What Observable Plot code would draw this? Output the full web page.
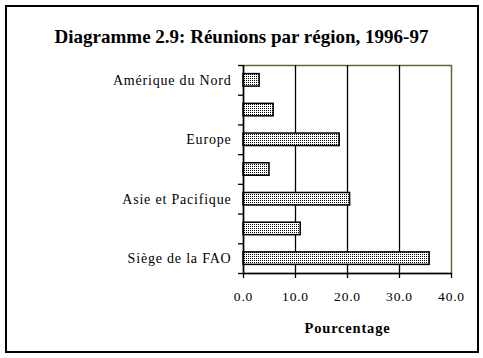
<!DOCTYPE html>
<html>
<head>
<meta charset="utf-8">
<script src="https://cdn.jsdelivr.net/npm/d3@7"></script>
<script src="https://cdn.jsdelivr.net/npm/@observablehq/plot@0.6"></script>
<style>
  html, body { margin: 0; padding: 0; background: #fff; }
  #wrap { position: relative; width: 483px; height: 358px; overflow: hidden; background: #fff; }
  #frame { position: absolute; left: 5px; top: 5px; width: 470px; height: 344px; border: 2px solid #000; }
  #title { position: absolute; left: 0; width: 483px; top: 26px; text-align: center;
           font: bold 19px "Liberation Serif", serif; color: #000; line-height: 22px; }
  #chart { position: absolute; left: 0; top: 0; }
  #chart svg text { letter-spacing: 0.8px; font-family: "Liberation Serif", serif; }
</style>
</head>
<body>
<div id="wrap">
  <div id="frame"></div>
  <div id="chart"></div>
  <div id="title">Diagramme 2.9: Réunions par région, 1996-97</div>
</div>
<script>
const categories = ["Amérique du Nord", "", "Europe", "", "Asie et Pacifique", "", "Siège de la FAO"];
const values = [3.1, 5.8, 18.5, 5.0, 20.5, 11.0, 35.8];
const xTicks = [0, 10, 20, 30, 40];
const xLabel = "Pourcentage";

const data = categories.map((c, i) => ({i, c, v: values[i]}));
const n = categories.length;
const half = 0.21;
const olive = "#66663a";

const plot = Plot.plot({
  width: 483,
  height: 358,
  marginTop: 65,
  marginRight: 32,
  marginBottom: 85,
  marginLeft: 243,
  style: {fontFamily: "Liberation Serif, serif", fontSize: "13px", background: "transparent", color: "#000"},
  x: {domain: [0, 40]},
  y: {domain: [-0.5, n - 0.5], reverse: true},
  marks: [
    Plot.frame({stroke: olive, strokeWidth: 1.5}),
    Plot.gridX({ticks: xTicks.slice(1, -1), stroke: "#000", strokeOpacity: 1, strokeWidth: 1.3}),
    Plot.rectX(data, {x1: 0, x2: "v", y1: d => d.i - half, y2: d => d.i + half,
      fill: "url(#dots)", stroke: "#000", strokeWidth: 1.5}),
    Plot.ruleX([0], {stroke: "#000", strokeWidth: 1.5}),
    Plot.ruleY([n - 0.5], {stroke: "#000", strokeWidth: 1.5}),
    Plot.axisY({ticks: d3.range(-0.5, n, 1), tickSize: 5, tickFormat: () => "", strokeWidth: 1.3}),
    Plot.axisY({ticks: d3.range(n), tickSize: 0, tickPadding: 12, tickFormat: i => categories[i], label: null, fontSize: 14}),
    Plot.axisX({ticks: xTicks, tickSize: 5, tickPadding: 13, tickFormat: d => d.toFixed(1), label: null, strokeWidth: 1.3, fontSize: 13.5}),
    Plot.text([xLabel], {frameAnchor: "bottom", dy: 59, text: d => d, fontWeight: "bold", fontSize: 14.5})
  ]
});

const ns = "http://www.w3.org/2000/svg";
const defs = document.createElementNS(ns, "defs");
defs.innerHTML = '<pattern id="dots" width="2" height="2" patternUnits="userSpaceOnUse">' +
  '<rect width="2" height="2" fill="#fff"/><rect width="1" height="1" fill="#000"/></pattern>';
plot.insertBefore(defs, plot.firstChild);
document.getElementById("chart").appendChild(plot);
</script>
</body>
</html>
